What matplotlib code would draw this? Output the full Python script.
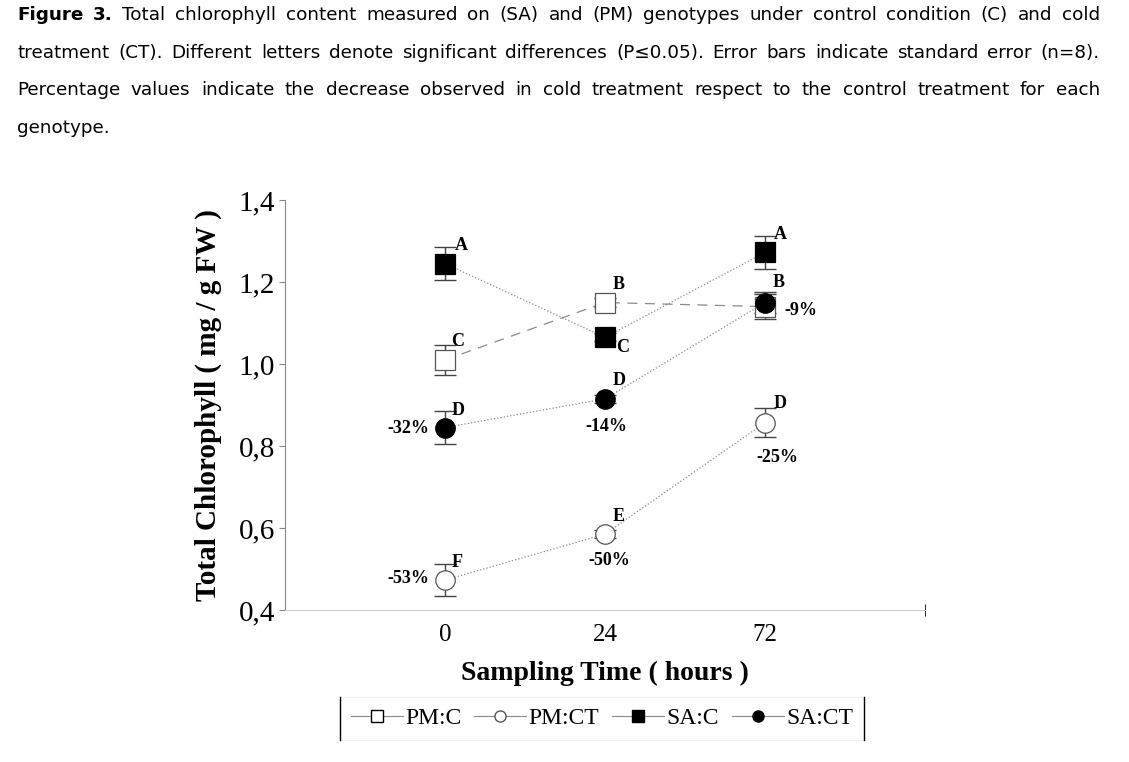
import matplotlib
matplotlib.use("Agg")
import matplotlib.pyplot as plt
from matplotlib.lines import Line2D

# sampling times (categorical positions)
times = ["0", "24", "72"]

pm_c = [1.01, 1.15, 1.14]
pm_c_err = [0.037, 0.01, 0.03]
pm_ct = [0.473, 0.585, 0.857]
pm_ct_err = [0.04, 0.01, 0.035]
sa_c = [1.245, 1.065, 1.272]
sa_c_err = [0.04, 0.01, 0.04]
sa_ct = [0.845, 0.915, 1.15]
sa_ct_err = [0.04, 0.01, 0.025]

# significance letters and percent decrease labels
pm_c_letters = ["C", "B", "B"]
pm_ct_letters = ["F", "E", "D"]
sa_c_letters = ["A", "C", "A"]
sa_ct_letters = ["D", "D", ""]
pm_ct_pct = ["-53%", "-50%", "-25%"]
sa_ct_pct = ["-32%", "-14%", "-9%"]

caption = [
    "Figure 3. Total chlorophyll content measured on (SA) and (PM) genotypes under control condition (C) and cold",
    "treatment (CT). Different letters denote significant differences (P\u22640.05). Error bars indicate standard error (n=8).",
    "Percentage values indicate the decrease observed in cold treatment respect to the control treatment for each",
    "genotype.",
]

W, H = 1129, 762
fig = plt.figure(figsize=(W / 100, H / 100), dpi=100)
ax = fig.add_axes([0.2524, 0.1995, 0.5669, 0.538])

x = list(range(len(times)))
serif = "Liberation Serif"
grey = "#8a8a8a"

def series(vals, err, marker, face, ls):
    ax.errorbar(x, vals, yerr=err, fmt="none", ecolor="#444444", elinewidth=1,
                capsize=8, capthick=1, zorder=2)
    ax.plot(x, vals, linestyle=ls, color=grey, lw=0.9, zorder=3)
    ax.plot(x, vals, linestyle="none", marker=marker, ms=14, mfc=face,
            mec="#555555" if face == "white" else "black", mew=0.9, zorder=4)

series(pm_c, pm_c_err, "s", "white", (0, (8, 6)))
series(pm_ct, pm_ct_err, "o", "white", ":")
series(sa_c, sa_c_err, "s", "black", ":")
series(sa_ct, sa_ct_err, "o", "black", ":")

def label(vals, texts, offsets):
    for xi, v, t, off in zip(x, vals, texts, offsets):
        if t:
            ax.annotate(t, (xi, v), xytext=off, textcoords="offset pixels",
                        ha="center", va="center", fontsize=13,
                        fontweight="bold", family=serif, zorder=5)

label(sa_c, sa_c_letters, [(16, 18), (18, -10), (15, 18)])
label(pm_c, pm_c_letters, [(13, 18), (14, 18), (14, 24)])
label(sa_ct, sa_ct_letters, [(13, 17), (14, 18), (0, 0)])
label(pm_ct, pm_ct_letters, [(12, 18), (14, 18), (15, 19)])
label(sa_ct, sa_ct_pct, [(-37, -1), (1, -28), (36, -8)])
label(pm_ct, pm_ct_pct, [(-37, 2), (4, -26), (12, -35)])

ax.set_xlim(-1, 3)
ax.set_ylim(0.4, 1.4)
ax.set_xticks(x)
ax.set_xticklabels(times, family=serif, fontsize=18)
ax.set_xticks([3], minor=True)
ax.tick_params(axis="x", which="major", length=0, pad=10)
ax.tick_params(axis="x", which="minor", length=8, direction="inout", color="black")
ax.set_yticks([0.4, 0.6, 0.8, 1.0, 1.2, 1.4])
ax.set_yticklabels(["0,4", "0,6", "0,8", "1,0", "1,2", "1,4"], family=serif, fontsize=21)
ax.tick_params(axis="y", length=4, color="#888888", pad=3)
for s in ["top", "right"]:
    ax.spines[s].set_visible(False)
ax.spines["left"].set_color("#888888")
ax.spines["bottom"].set_color("#cccccc")

ax.set_xlabel("Sampling Time ( hours )", family=serif, fontsize=20,
              fontweight="bold", labelpad=11)
ax.set_ylabel("Total Chlorophyll ( mg / g FW )", family=serif, fontsize=21,
              fontweight="bold", labelpad=12)

handles = [
    Line2D([], [], color=grey, lw=0.8, marker="s", ms=8, mfc="white", mec="black"),
    Line2D([], [], color=grey, lw=0.8, marker="o", ms=8, mfc="white", mec="#555555"),
    Line2D([], [], color=grey, lw=0.8, marker="s", ms=8, mfc="black", mec="black"),
    Line2D([], [], color=grey, lw=0.8, marker="o", ms=8, mfc="black", mec="black"),
]
leg = fig.legend(handles, ["PM:C", "PM:CT", "SA:C", "SA:CT"], loc="center",
                 bbox_to_anchor=(0.5334, 0.0575), ncol=4, frameon=True,
                 fancybox=False, prop={"family": serif, "size": 17},
                 handlelength=2.2, handletextpad=0.1, columnspacing=0.55,
                 borderpad=0.45, borderaxespad=0)
leg.get_frame().set_edgecolor("#eeeeee")
leg.get_frame().set_linewidth(0.8)

# caption, justified across the page width
fig.canvas.draw()
renderer = fig.canvas.get_renderer()
left, right = 17, 1100
ys = [747, 709, 672, 634]
for i, (line, yp) in enumerate(zip(caption, ys)):
    words = line.split(" ")
    texts = []
    for j, w in enumerate(words):
        bold = i == 0 and j < 2
        t = fig.text(0, yp / H, w, fontsize=13.2, family="DejaVu Sans",
                     fontweight="bold" if bold else "normal", va="center")
        texts.append(t)
    widths = [t.get_window_extent(renderer).width for t in texts]
    if i < len(caption) - 1 and len(words) > 1:
        gap = (right - left - sum(widths)) / (len(words) - 1)
    else:
        gap = 6
    xp = left
    for t, w in zip(texts, widths):
        t.set_x(xp / W)
        xp += w + gap

# legend side bars
bb = leg.get_window_extent(renderer)
for xe in (bb.x0, bb.x1):
    fig.add_artist(Line2D([xe / W, xe / W], [bb.y0 / H, bb.y1 / H],
                          color="black", lw=1.0, zorder=10))

fig.savefig("out.png", dpi=100)
